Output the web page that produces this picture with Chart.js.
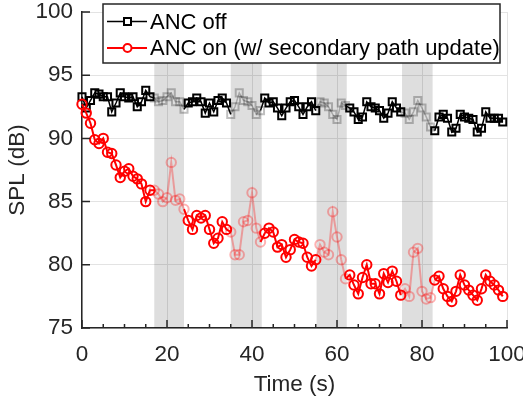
<!DOCTYPE html>
<html>
<head>
<meta charset="utf-8">
<script src="https://cdn.jsdelivr.net/npm/chart.js@4.4.1/dist/chart.umd.min.js"></script>
<style>
  html, body { margin: 0; padding: 0; background: #fff; }
  #wrap { width: 523px; height: 406px; }
</style>
</head>
<body>
<div id="wrap"><canvas id="splChart" width="523" height="406"></canvas></div>
<script>
// sample times (s)
const timeS = [0,1,2,3,4,5,6,7,8,9,10,11,12,13,14,15,16,17,18,19,
  20,21,22,23,24,25,26,27,28,29,30,31,32,33,34,35,36,37,38,39,
  40,41,42,43,44,45,46,47,48,49,50,51,52,53,54,55,56,57,58,59,
  60,61,62,63,64,65,66,67,68,69,70,71,72,73,74,75,76,77,78,79,
  80,81,82,83,84,85,86,87,88,89,90,91,92,93,94,95,96,97,98,99];

// SPL (dB), ANC off
const ancOff = [93.3,92.4,93.0,93.6,93.5,93.3,93.3,92.1,92.8,93.6,
  93.3,93.2,93.3,92.5,92.9,93.8,93.3,93.2,92.9,93.0,
  93.3,93.6,92.9,92.9,92.3,92.8,92.9,93.2,92.9,92.0,
  92.8,92.1,93.0,93.2,92.8,91.9,92.5,93.6,93.0,92.9,
  92.6,91.9,92.2,93.2,92.8,92.9,92.4,91.8,92.4,92.9,
  93.0,92.5,91.9,92.5,92.9,92.2,92.9,92.8,92.5,91.9,
  91.5,92.8,92.6,92.4,92.1,91.5,91.7,92.9,92.5,92.4,
  92.2,91.6,92.0,92.9,92.4,92.1,92.0,91.5,92.1,93.0,
  92.4,91.7,90.9,90.6,91.7,91.9,91.6,90.5,90.8,91.9,
  91.7,91.6,91.5,90.5,90.8,92.1,91.6,91.6,91.6,91.3];

// SPL (dB), ANC on (w/ secondary path update)
const ancOn = [92.7,92.0,91.2,89.9,89.6,90.0,88.9,88.8,87.9,86.9,
  87.4,87.6,87.0,86.8,86.4,85.0,85.9,85.9,85.6,85.0,
  85.3,88.1,85.1,85.2,84.4,83.5,82.8,83.9,83.7,83.9,
  82.8,81.7,82.1,83.4,82.8,82.6,80.8,80.8,83.4,83.5,
  85.7,82.9,81.8,82.5,82.9,82.6,81.4,81.6,80.6,81.2,
  82.0,81.8,81.7,80.6,79.9,80.4,81.6,81.0,80.8,84.2,
  82.2,80.4,78.9,79.2,78.4,77.7,79.0,80.0,78.5,78.5,
  77.7,79.3,78.6,79.5,78.7,77.6,78.1,77.5,81.0,81.3,
  77.9,77.3,77.4,78.8,79.1,78.1,77.5,77.1,77.9,79.2,
  78.4,78.0,77.6,77.2,78.1,79.2,78.7,78.4,78.0,77.5];

// secondary path update intervals (s)
const bandStart = [17, 35, 55.2, 75.3];
const bandEnd = [24, 42.3, 62.3, 82.5];

const seriesLabels = ['ANC off', 'ANC on (w/ secondary path update)'];

const FONT = 'Liberation Sans, Arial, Helvetica, sans-serif';
const INK = '#262626';

function inBand(x) {
    for (let i = 0; i < bandStart.length; i++) {
        if (x >= bandStart[i] && x <= bandEnd[i]) return true;
    }
    return false;
}

function toXY(ys) {
    return timeS.map((t, i) => ({ x: t, y: ys[i] }));
}

// gray shaded intervals behind the data
const bandPlugin = {
    id: 'bands',
    beforeDatasetsDraw(chart) {
        const { ctx, chartArea, scales } = chart;
        ctx.save();
        ctx.fillStyle = 'rgba(0,0,0,0.13)';
        for (let i = 0; i < bandStart.length; i++) {
            const x0 = scales.x.getPixelForValue(bandStart[i]);
            const x1 = scales.x.getPixelForValue(bandEnd[i]);
            ctx.fillRect(x0, chartArea.top, x1 - x0, chartArea.bottom - chartArea.top);
        }
        ctx.restore();
    }
};

// inward tick marks like the original figure
const tickPlugin = {
    id: 'inTicks',
    afterDatasetsDraw(chart) {
        const { ctx, chartArea, scales } = chart;
        ctx.save();
        ctx.strokeStyle = INK;
        ctx.lineWidth = 1.5;
        ctx.beginPath();
        for (let v = scales.x.min; v <= scales.x.max; v += 5) {
            const px = scales.x.getPixelForValue(v);
            const len = v % 20 === 0 ? 8 : 4;
            ctx.moveTo(px, chartArea.bottom);
            ctx.lineTo(px, chartArea.bottom - len);
        }
        scales.y.ticks.forEach(t => {
            const py = scales.y.getPixelForValue(t.value);
            ctx.moveTo(chartArea.left, py);
            ctx.lineTo(chartArea.left + 8, py);
        });
        ctx.stroke();
        ctx.restore();
    }
};

// boxed legend inside the plot, top right
const legendPlugin = {
    id: 'boxLegend',
    afterDraw(chart) {
        const ctx = chart.ctx;
        const left = 103, top = 4, right = 500, bottom = 63;
        const rows = [21.5, 48];
        ctx.save();
        ctx.fillStyle = '#fff';
        ctx.fillRect(left, top, right - left, bottom - top);
        ctx.strokeStyle = INK;
        ctx.lineWidth = 1.5;
        ctx.strokeRect(left, top, right - left, bottom - top);
        chart.data.datasets.forEach((ds, i) => {
            const y = rows[i];
            ctx.strokeStyle = ds.borderColor;
            ctx.lineWidth = ds.borderWidth;
            ctx.beginPath();
            ctx.moveTo(107, y);
            ctx.lineTo(147, y);
            ctx.stroke();
            ctx.fillStyle = '#fff';
            ctx.lineWidth = 2;
            ctx.beginPath();
            if (ds.pointStyle === 'rect') {
                ctx.rect(124, y - 3.5, 7, 7);
            } else {
                ctx.arc(127.5, y, 4, 0, Math.PI * 2);
            }
            ctx.fill();
            ctx.stroke();
            ctx.fillStyle = '#000';
            ctx.font = '22px ' + FONT;
            ctx.textBaseline = 'middle';
            ctx.textAlign = 'left';
            ctx.fillText(ds.label, 150, y + 1);
        });
        ctx.restore();
    }
};

function makeSet(label, ys, color, faded, style, width, order) {
    return {
        label: label,
        data: toXY(ys),
        borderColor: color,
        borderWidth: width,
        pointStyle: style,
        pointRadius: style === 'rect' ? 5 : 4.7,
        pointBorderWidth: 2,
        pointBackgroundColor: 'rgba(0,0,0,0)',
        pointBorderColor: c => inBand(c.parsed.x) ? faded : color,
        segment: {
            borderColor: c => inBand((c.p0.parsed.x + c.p1.parsed.x) / 2) ? faded : color
        },
        tension: 0,
        clip: false,
        order: order
    };
}

const ctx = document.getElementById('splChart').getContext('2d');
new Chart(ctx, {
    type: 'line',
    data: {
        datasets: [
            makeSet(seriesLabels[0], ancOff, '#000000', 'rgba(0,0,0,0.25)', 'rect', 1.5, 2),
            makeSet(seriesLabels[1], ancOn, '#ff0000', 'rgba(255,0,0,0.3)', 'circle', 2, 1)
        ]
    },
    options: {
        responsive: false,
        animation: false,
        layout: { padding: { top: 12, right: 16, left: 0, bottom: 0 } },
        plugins: {
            legend: { display: false },
            tooltip: { enabled: false }
        },
        scales: {
            x: {
                type: 'linear',
                min: 0,
                max: 100,
                ticks: { stepSize: 20, color: INK, font: { family: FONT, size: 22.5 }, padding: 13, maxRotation: 0 },
                grid: { color: '#e3e3e3', lineWidth: 1, drawTicks: false },
                border: { color: INK, width: 1.5 },
                title: { display: true, text: 'Time (s)', color: INK, font: { family: FONT, size: 22.5 }, padding: { top: 0, bottom: 8 } },
                afterFit: s => { s.height = 78; s.paddingLeft = 0; s.paddingRight = 0; }
            },
            y: {
                min: 75,
                max: 100,
                ticks: { stepSize: 5, color: INK, font: { family: FONT, size: 22.5 }, padding: 9 },
                grid: { color: '#e3e3e3', lineWidth: 1, drawTicks: false },
                border: { color: INK, width: 1.5 },
                title: { display: true, text: 'SPL (dB)', color: INK, font: { family: FONT, size: 22.5 }, padding: { top: 4, bottom: 0 } },
                afterFit: s => { s.width = 82; s.paddingTop = 0; s.paddingBottom = 0; }
            }
        }
    },
    plugins: [bandPlugin, tickPlugin, legendPlugin]
});
</script>
</body>
</html>
